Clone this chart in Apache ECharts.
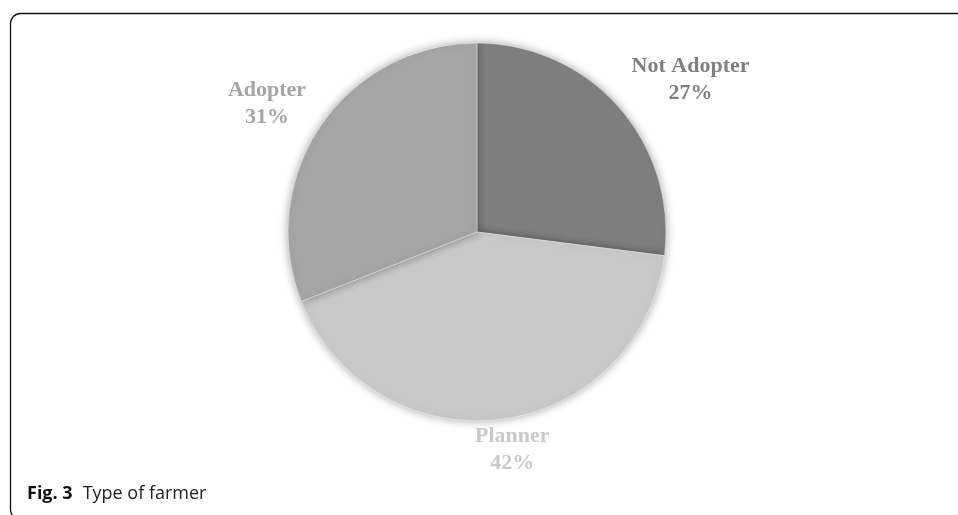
<!DOCTYPE html>
<html>
<head>
<meta charset="utf-8">
<script src="https://cdn.jsdelivr.net/npm/echarts@6/dist/echarts.min.js"></script>
<style>
html,body{margin:0;padding:0;background:#fff;}
#chart{width:958px;height:515px;}
</style>
</head>
<body>
<div id="chart"></div>
<script>
// Data
const categories = ['Not Adopter', 'Planner', 'Adopter'];
const shares = [27, 42, 31];
const sliceColors = ['#7f7f7f', '#c9c9c9', '#a5a5a5'];
const captionBold = 'Fig. 3';
const captionText = 'Type of farmer';

const chart = echarts.init(document.getElementById('chart'));
const cx = 477, cy = 232, R = 189;
// label placement (radial distance and angle tweak per slice)
const labelDist = [262, 221, 246];
const labelAngleAdj = [6, -2, -2.8];
const total = shares.reduce((a, b) => a + b, 0);
const midAngles = [];
let acc = 0;
shares.forEach(v => { midAngles.push((acc + v / 2) / total * 360); acc += v; });

chart.setOption({
  animation: false,
  backgroundColor: '#ffffff',
  graphic: [
    {
      type: 'rect',
      shape: { x: 10.5, y: 13.5, width: 980, height: 506, r: 10 },
      style: { fill: 'none', stroke: '#111', lineWidth: 1.3 },
      silent: true
    },
    {
      type: 'text',
      left: 27,
      top: 485,
      style: {
        text: '{b|' + captionBold + '}   {r|' + captionText + '}',
        rich: {
          b: { fontFamily: 'Open Sans', fontWeight: 'bold', fontSize: 18, fill: '#111' },
          r: { fontFamily: 'Open Sans', fontSize: 18, fill: '#222' }
        }
      }
    }
  ],
  series: [{
    type: 'pie',
    center: [cx, cy],
    radius: R,
    startAngle: 90,
    clockwise: true,
    data: categories.map((c, i) => ({
      name: c,
      value: shares[i],
      itemStyle: { color: sliceColors[i] },
      label: { color: sliceColors[i] }
    })),
    itemStyle: {
      borderColor: 'rgba(255,255,255,0.55)',
      borderWidth: 0.8,
      shadowBlur: 10,
      shadowColor: 'rgba(0,0,0,0.35)'
    },
    label: {
      show: true,
      position: 'outside',
      formatter: p => p.name + '\n' + Math.round(p.percent) + '%',
      fontFamily: 'Liberation Serif',
      fontWeight: 'bold',
      fontSize: 22,
      lineHeight: 27,
      align: 'center'
    },
    labelLine: { show: false },
    labelLayout: function (params) {
      const i = params.dataIndex;
      const a = (midAngles[i] + labelAngleAdj[i]) * Math.PI / 180;
      return {
        x: cx + labelDist[i] * Math.sin(a),
        y: cy - labelDist[i] * Math.cos(a),
        align: 'center',
        verticalAlign: 'middle'
      };
    },
    emphasis: { disabled: true }
  }]
});
</script>
</body>
</html>
